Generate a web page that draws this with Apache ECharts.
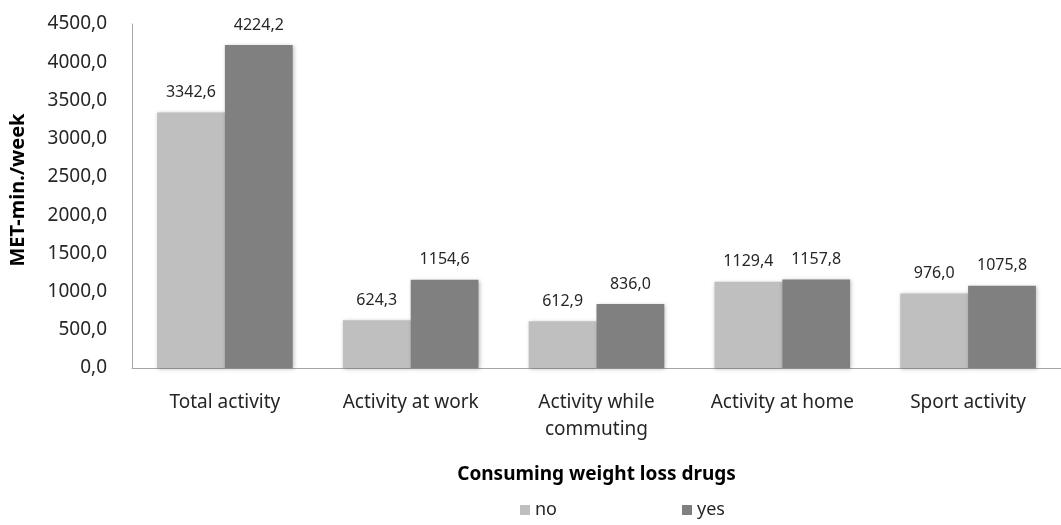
<!DOCTYPE html>
<html>
<head>
<meta charset="utf-8">
<script src="https://cdn.jsdelivr.net/npm/echarts@6/dist/echarts.min.js"></script>
<style>
  html, body { margin: 0; padding: 0; background: #fff; }
  #chart { width: 1061px; height: 525px; }
</style>
</head>
<body>
<div id="chart"></div>
<script>
const categories = ["Total activity", "Activity at work", "Activity while\ncommuting", "Activity at home", "Sport activity"];
const noValues = [3342.6, 624.3, 612.9, 1129.4, 976.0];
const yesValues = [4224.2, 1154.6, 836.0, 1157.8, 1075.8];
const seriesNames = ["no", "yes"];

const font = "'Noto Sans', sans-serif";
const fmt = function (v) { return v.toFixed(1).replace(".", ","); };

const chart = echarts.init(document.getElementById("chart"), null, { renderer: "canvas" });

chart.setOption({
  animation: false,
  textStyle: { fontFamily: font, color: "#262626" },
  grid: { left: 131, right: 0, top: 24, bottom: 157, containLabel: false },
  legend: {
    data: seriesNames,
    bottom: 1,
    left: 515,
    itemWidth: 10,
    itemHeight: 10,
    itemGap: 125,
    icon: "rect",
    textStyle: { fontFamily: font, fontSize: 18, color: "#262626" }
  },
  xAxis: {
    type: "category",
    data: categories,
    name: "Consuming weight loss drugs",
    nameLocation: "middle",
    nameGap: 97,
    nameTextStyle: { fontFamily: font, fontSize: 19, fontWeight: "bold", color: "#000" },
    axisLine: { lineStyle: { color: "#a6a6a6", width: 1 } },
    axisTick: { show: false },
    axisLabel: { fontSize: 19, color: "#262626", margin: 21, lineHeight: 27, interval: 0 }
  },
  yAxis: {
    type: "value",
    min: 0,
    max: 4500,
    interval: 500,
    name: "MET-min./week",
    nameLocation: "middle",
    nameGap: 104,
    nameRotate: 90,
    nameTextStyle: { fontFamily: font, fontSize: 20, fontWeight: "bold", color: "#000", padding: [0, 0, 0, 12] },
    axisLine: { show: true, lineStyle: { color: "#a6a6a6", width: 1 } },
    axisTick: { show: false },
    splitLine: { show: false },
    axisLabel: { fontSize: 19, color: "#262626", margin: 25, formatter: fmt }
  },
  series: [
    {
      name: seriesNames[0],
      type: "bar",
      data: noValues,
      barGap: "0%",
      barCategoryGap: "27%",
      itemStyle: { color: "#bfbfbf", shadowColor: "rgba(0,0,0,0.25)", shadowBlur: 4, shadowOffsetX: 1, shadowOffsetY: 1 },
      label: { show: true, position: "top", distance: 12, fontSize: 16, color: "#262626", formatter: function (p) { return fmt(p.value); } }
    },
    {
      name: seriesNames[1],
      type: "bar",
      data: yesValues,
      barGap: "0%",
      barCategoryGap: "27%",
      itemStyle: { color: "#808080", shadowColor: "rgba(0,0,0,0.25)", shadowBlur: 4, shadowOffsetX: 1, shadowOffsetY: 1 },
      label: { show: true, position: "top", distance: 12, fontSize: 16, color: "#262626", formatter: function (p) { return fmt(p.value); } }
    }
  ]
});
</script>
</body>
</html>
